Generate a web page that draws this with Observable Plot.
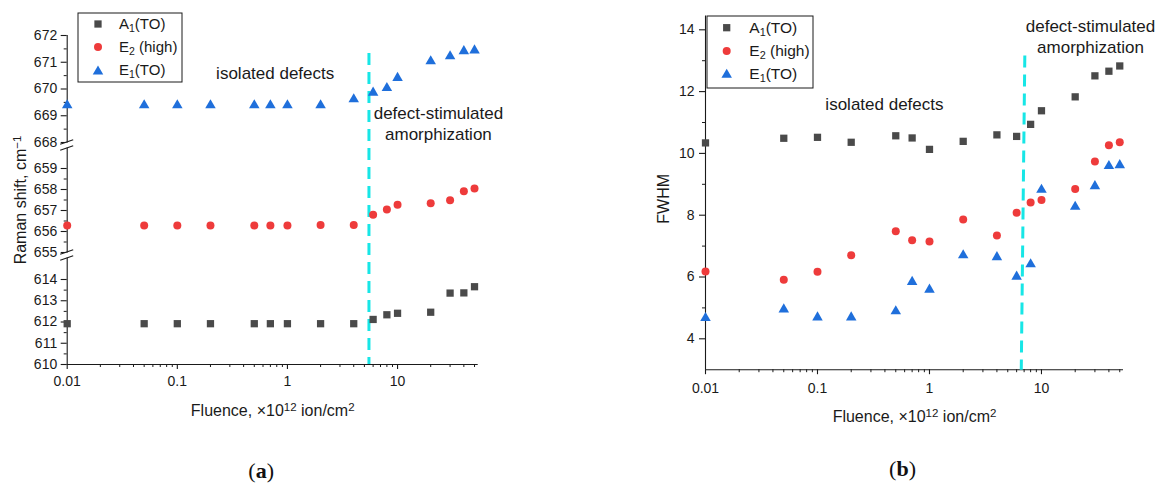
<!DOCTYPE html>
<html><head><meta charset="utf-8">
<script src="https://cdn.jsdelivr.net/npm/d3@7"></script>
<script src="https://cdn.jsdelivr.net/npm/@observablehq/plot@0.6"></script>
<style>
body{margin:0;background:#fff;}
#wrap{position:relative;width:1160px;height:483px;overflow:hidden;background:#fff;}
#wrap svg{position:absolute;top:0;}
</style></head><body><div id="wrap"></div>
<script>
// ---------------- data ----------------
const fluence = [0.01, 0.05, 0.1, 0.2, 0.5, 0.7, 1, 2, 4, 6, 8, 10, 20, 30, 40, 50];
const seriesNames = ["A_{1}(TO)", "E_{2} (high)", "E_{1}(TO)"];
const ramanA1 = [611.92, 611.92, 611.92, 611.92, 611.92, 611.92, 611.92, 611.92, 611.92, 612.12, 612.34, 612.41, 612.46, 613.36, 613.37, 613.66];
const ramanE2 = [656.29, 656.29, 656.29, 656.29, 656.29, 656.29, 656.29, 656.31, 656.31, 656.80, 657.05, 657.27, 657.35, 657.49, 657.92, 658.05];
const ramanE1 = [669.45, 669.45, 669.45, 669.45, 669.45, 669.45, 669.45, 669.45, 669.67, 669.92, 670.09, 670.47, 671.09, 671.28, 671.47, 671.50];
const fwhmA1 = [10.34, 10.49, 10.52, 10.36, 10.57, 10.50, 10.13, 10.39, 10.60, 10.55, 10.94, 11.38, 11.83, 12.51, 12.66, 12.83];
const fwhmE2 = [6.18, 5.91, 6.17, 6.70, 7.48, 7.19, 7.15, 7.86, 7.34, 8.08, 8.41, 8.49, 8.85, 9.74, 10.26, 10.36];
const fwhmE1 = [4.72, 5.00, 4.74, 4.74, 4.94, 5.89, 5.64, 6.75, 6.69, 6.06, 6.46, 8.87, 8.32, 8.99, 9.64, 9.67];
const xTicks = [0.01, 0.1, 1, 10];
const xMinorTicks = [0.02,0.03,0.04,0.05,0.06,0.07,0.08,0.09,0.2,0.3,0.4,0.5,0.6,0.7,0.8,0.9,2,3,4,5,6,7,8,9,20,30,40,50];
const yTicksA = [610, 611, 612, 613, 614, 655, 656, 657, 658, 659, 668, 669, 670, 671, 672];
const yMinorA = [610.5, 611.5, 612.5, 613.5, 655.5, 656.5, 657.5, 658.5, 668.5, 669.5, 670.5, 671.5];
const yTicksB = [4, 6, 8, 10, 12, 14];
const yMinorB = [5, 7, 9, 11, 13];
// broken axis of panel (a): segment ends and their lengths along the axis
const yBreakDomainA = [610, 614, 655, 659, 668, 672];
const yBreakSpanA = [0, 85, 112, 196, 222, 329];
const yBreaksA = [668, 655];
const boundaryA = 5.5;                 // dashed line, panel (a)
const boundaryB = [7.1, 6.6];          // dashed line, panel (b): top x, bottom x
const xTitle = "Fluence, ×10^{12} ion/cm^{2}";

// ---------------- style ----------------
const colors = ["#4a4a4a", "#ee3b3b", "#1f6fdb"];
const symbols = ["square", "circle", "triangle"];
const radii = [4.1, 4, 3.9];
const symDy = [0, 0, 1.5];
const cyan = "#17e6e6";
const ink = "#1a1a1a";
const sans = "'Liberation Sans', Arial, sans-serif";
const serif = "'Liberation Serif', 'DejaVu Serif', serif";

// piecewise map for the broken axis
const brk = d3.scaleLinear().domain(yBreakDomainA).range(yBreakSpanA);

function rows(ys, f = d => d) { return fluence.map((x, i) => ({x, y: f(ys[i])})); }

function seriesMarks(list, f) {
  return list.map((ys, k) => Plot.dot(rows(ys, f), {
    x: "x", y: "y", symbol: symbols[k], r: radii[k], fill: colors[k], dy: symDy[k]
  }));
}

// rich text: _{sub} ^{sup} *{bold}
function richify(svg) {
  d3.select(svg).selectAll("text").each(function () {
    const el = this;
    const s = el.textContent;
    if (!/[_^*]\{/.test(s) || el.querySelector("tspan")) return;
    el.textContent = "";
    const re = /([_^*])\{([^}]*)\}/g;
    let last = 0, m;
    const parts = [];
    while ((m = re.exec(s))) {
      if (m.index > last) parts.push(["", s.slice(last, m.index)]);
      parts.push([m[1], m[2]]);
      last = re.lastIndex;
    }
    if (last < s.length) parts.push(["", s.slice(last)]);
    for (const [k, t] of parts) {
      const ts = d3.select(el).append("tspan").text(t);
      if (k === "_") ts.attr("font-size", "70%").attr("baseline-shift", "-25%");
      if (k === "^") ts.attr("font-size", "72%").attr("baseline-shift", "38%");
      if (k === "*") ts.attr("font-weight", "bold");
    }
  });
}

function addLegend(svg, L) {
  const g = d3.select(svg).append("g").attr("font-family", sans).attr("font-size", L.fs).attr("text-anchor", "start");
  g.append("rect").attr("x", L.x).attr("y", L.y).attr("width", L.w).attr("height", L.h)
    .attr("fill", "white").attr("stroke", ink).attr("stroke-width", 1);
  seriesNames.forEach((name, k) => {
    const sym = {square: d3.symbolSquare, circle: d3.symbolCircle, triangle: d3.symbolTriangle}[symbols[k]];
    g.append("path").attr("d", d3.symbol(sym, Math.PI * radii[k] * radii[k])())
      .attr("transform", `translate(${L.mx},${L.rows[k] + symDy[k]})`).attr("fill", colors[k]);
    g.append("text").attr("x", L.tx).attr("y", L.rows[k]).attr("dy", "0.35em").attr("fill", ink).attr("text-anchor", "start").text(name);
  });
}

function addBreaks(svg, plot, xPix) {
  const ys = plot.scale("y");
  const g = d3.select(svg).append("g");
  for (const b of yBreaksA) {
    const yb = ys.apply(brk(b));
    g.append("rect").attr("x", xPix - 2).attr("y", yb + 0.6).attr("width", 4).attr("height", 5).attr("fill", "white");
    for (const o of [0, 6]) {
      g.append("line").attr("x1", xPix - 6.5).attr("y1", yb + o + 2.3).attr("x2", xPix + 6.5).attr("y2", yb + o - 2.3)
        .attr("stroke", ink).attr("stroke-width", 1.1);
    }
  }
}

// ---------------- panel (a) ----------------
const plotA = Plot.plot({
  width: 580, height: 483,
  marginLeft: 66.7, marginRight: 102.3, marginTop: 35, marginBottom: 119,
  style: {fontFamily: sans, fontSize: "14px", color: ink, background: "white", overflow: "visible"},
  x: {type: "log", domain: [0.01, 54]},
  y: {domain: [brk(610), brk(672)]},
  marks: [
    Plot.ruleY([brk(610)], {stroke: ink, strokeWidth: 1.1}),
    Plot.ruleX([0.01], {stroke: ink, strokeWidth: 1.1}),
    Plot.axisY(yTicksA.map(brk), {tickSize: 6, tickPadding: 4, fontSize: 14, label: null, tickFormat: v => String(Math.round(brk.invert(v))), strokeWidth: 1.1}),
    Plot.axisY(yMinorA.map(brk), {tickSize: 3, label: null, fill: "none", tickFormat: () => ""}),
    Plot.axisX({ticks: xTicks, tickSize: 5, tickPadding: 7, fontSize: 14, label: null, tickFormat: d => String(d), strokeWidth: 1.1}),
    Plot.axisX({ticks: xMinorTicks, tickSize: 3, label: null, fill: "none", tickFormat: () => ""}),
    Plot.ruleX([boundaryA], {y1: brk(671.33), y2: brk(610), stroke: cyan, strokeWidth: 3, strokeDasharray: "12,7"}),
    ...seriesMarks([ramanA1, ramanE2, ramanE1], brk),
    Plot.text(["isolated defects"], {x: 0.774, y: brk(670.58), text: d => d, fontSize: 17, fill: ink}),
    Plot.text(["defect-stimulated\namorphization"], {x: 23.5, y: brk(668.74), text: d => d, fontSize: 17, lineHeight: 1.25, fill: ink}),
    Plot.text([xTitle], {frameAnchor: "bottom", lineAnchor: "middle", dy: 46, text: d => d, fontSize: 16, fill: ink}),
    Plot.text(["Raman shift, cm^{−1}"], {frameAnchor: "left", textAnchor: "middle", lineAnchor: "middle", dx: -46.7, text: d => d, rotate: -90, fontSize: 16, fill: ink}),
    Plot.text(["(*{a})"], {frameAnchor: "bottom", lineAnchor: "middle", dx: -11.5, dy: 106, text: d => d, fontSize: 22, fontFamily: serif, fill: "#111"})
  ]
});

// ---------------- panel (b) ----------------
const plotB = Plot.plot({
  width: 580, height: 483,
  marginLeft: 125, marginRight: 37, marginTop: 15.4, marginBottom: 113.8,
  style: {fontFamily: sans, fontSize: "14px", color: ink, background: "white", overflow: "visible"},
  x: {type: "log", domain: [0.01, 54]},
  y: {domain: [3, 14.45]},
  marks: [
    Plot.ruleY([3], {stroke: ink, strokeWidth: 1.1}),
    Plot.ruleX([0.01], {stroke: ink, strokeWidth: 1.1}),
    Plot.axisY({ticks: yTicksB, tickSize: 6, tickPadding: 5, fontSize: 14, label: null, tickFormat: d => String(d), strokeWidth: 1.1}),
    Plot.axisY({ticks: yMinorB, tickSize: 3, label: null, fill: "none", tickFormat: () => ""}),
    Plot.axisX({ticks: xTicks, tickSize: 5, tickPadding: 8, fontSize: 14, label: null, tickFormat: d => String(d), strokeWidth: 1.1}),
    Plot.axisX({ticks: xMinorTicks, tickSize: 3, label: null, fill: "none", tickFormat: () => ""}),
    Plot.link([boundaryB], {x1: d => d[0], y1: 13.17, x2: d => d[1], y2: 3, stroke: cyan, strokeWidth: 3, strokeDasharray: "12,7"}),
    ...seriesMarks([fwhmA1, fwhmE2, fwhmE1]),
    Plot.text(["isolated defects"], {x: 0.396, y: 11.57, text: d => d, fontSize: 17, fill: ink}),
    Plot.text(["defect-stimulated\namorphization"], {x: 27.4, y: 13.8, text: d => d, fontSize: 17, lineHeight: 1.25, fill: ink}),
    Plot.text([xTitle], {frameAnchor: "bottom", lineAnchor: "middle", dy: 47.5, text: d => d, fontSize: 16, fill: ink}),
    Plot.text(["FWHM"], {frameAnchor: "left", textAnchor: "middle", lineAnchor: "middle", dx: -42, dy: 6, text: d => d, rotate: -90, fontSize: 16, fill: ink}),
    Plot.text(["(*{b})"], {frameAnchor: "bottom", lineAnchor: "middle", dx: -12, dy: 99, text: d => d, fontSize: 22, fontFamily: serif, fill: "#111"})
  ]
});

const wrap = document.getElementById("wrap");
plotA.style.left = "0px";
plotB.style.left = "580px";
wrap.appendChild(plotA);
wrap.appendChild(plotB);

addBreaks(plotA, plotA, 66.7);
addLegend(plotA, {x: 78, y: 13, w: 104, h: 69, rows: [24, 47, 70], mx: 98, tx: 119, fs: 15});
addLegend(plotB, {x: 127, y: 16, w: 106, h: 72, rows: [27.7, 51, 73.3], mx: 146.7, tx: 169.3, fs: 15.5});
richify(plotA);
richify(plotB);
</script>
</body></html>
